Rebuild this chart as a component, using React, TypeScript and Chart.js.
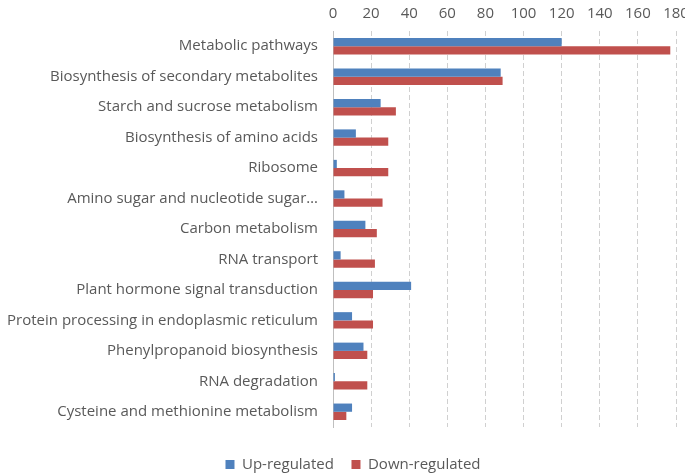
import React, { useEffect, useRef } from "react";
import { Chart, registerables } from "chart.js";

Chart.register(...registerables);

const categories = [
  "Metabolic pathways",
  "Biosynthesis of secondary metabolites",
  "Starch and sucrose metabolism",
  "Biosynthesis of amino acids",
  "Ribosome",
  "Amino sugar and nucleotide sugar…",
  "Carbon metabolism",
  "RNA transport",
  "Plant hormone signal transduction",
  "Protein processing in endoplasmic reticulum",
  "Phenylpropanoid biosynthesis",
  "RNA degradation",
  "Cysteine and methionine metabolism",
];

const upRegulated = [120, 88, 25, 12, 2, 6, 17, 4, 41, 10, 16, 1, 10];
const downRegulated = [177, 89, 33, 29, 29, 26, 23, 22, 21, 21, 18, 18, 7];

const seriesNames = ["Up-regulated", "Down-regulated"];
const xMin = 0;
const xMax = 180;
const xStep = 20;

const FONT = "'Open Sans', 'DejaVu Sans', sans-serif";
const TEXT = "#595959";

const legendShift = {
  id: "legendShift",
  afterLayout(chart: any) {
    const l = chart.legend;
    if (!l) return;
    l.left += 15;
    l.right += 15;
    l.top += 7;
    l.bottom += 7;
  },
};

export default function App() {
  const ref = useRef<HTMLCanvasElement | null>(null);

  useEffect(() => {
    document.body.style.margin = "0";
    const canvas = ref.current;
    if (!canvas) return;
    const chart = new Chart(canvas, {
      type: "bar",
      data: {
        labels: categories,
        datasets: [
          {
            label: seriesNames[0],
            data: upRegulated,
            backgroundColor: "#4F81BD",
            borderWidth: 0,
            barPercentage: 1,
            categoryPercentage: 0.54,
          },
          {
            label: seriesNames[1],
            data: downRegulated,
            backgroundColor: "#C0504D",
            borderWidth: 0,
            barPercentage: 1,
            categoryPercentage: 0.54,
          },
        ],
      },
      plugins: [legendShift],
      options: {
        indexAxis: "y",
        animation: false,
        responsive: false,
        maintainAspectRatio: false,
        layout: { padding: { left: 0, right: 9, top: 0, bottom: 0 } },
        scales: {
          x: {
            position: "top",
            min: xMin,
            max: xMax,
            ticks: {
              stepSize: xStep,
              color: TEXT,
              font: { family: FONT, size: 15 },
              padding: 8,
            },
            grid: {
              color: "#D0D0D0",
              drawTicks: false,
              tickLength: 0,
            },
            border: { display: false, dash: [5, 3] },
            afterFit: (scale: any) => {
              scale.height = 31;
              scale.paddingRight = 0;
              scale.paddingLeft = 0;
            },
          },
          spacer: {
            type: "linear",
            position: "bottom",
            axis: "x",
            weight: -10,
            display: true,
            ticks: { display: false },
            grid: { display: false, drawTicks: false },
            border: { display: false },
            afterFit: (scale: any) => {
              scale.height = 21;
              scale.paddingRight = 0;
              scale.paddingLeft = 0;
            },
          },
          y: {
            ticks: {
              color: TEXT,
              font: { family: FONT, size: 15 },
              padding: 15,
              autoSkip: false,
            },
            grid: { display: false, drawTicks: false },
            border: { display: true, color: "#BFBFBF", width: 1 },
            afterFit: (scale: any) => {
              scale.width = 333;
            },
          },
        },
        plugins: {
          legend: {
            position: "bottom",
            labels: {
              color: TEXT,
              font: { family: FONT, size: 15 },
              boxWidth: 9,
              boxHeight: 9,
              padding: 2,
              generateLabels: (c: any) => {
                const items = (Chart as any).defaults.plugins.legend.labels.generateLabels(c);
                return items.map((it: any, i: number) => ({
                  ...it,
                  text: i === 0 ? it.text + "    " : it.text,
                }));
              },
            },
          },
          tooltip: { enabled: false },
        },
      },
    } as any);
    return () => chart.destroy();
  }, []);

  return (
    <div style={{ width: 685, height: 475, background: "#fff" }}>
      <canvas ref={ref} width={685} height={475} />
    </div>
  );
}
